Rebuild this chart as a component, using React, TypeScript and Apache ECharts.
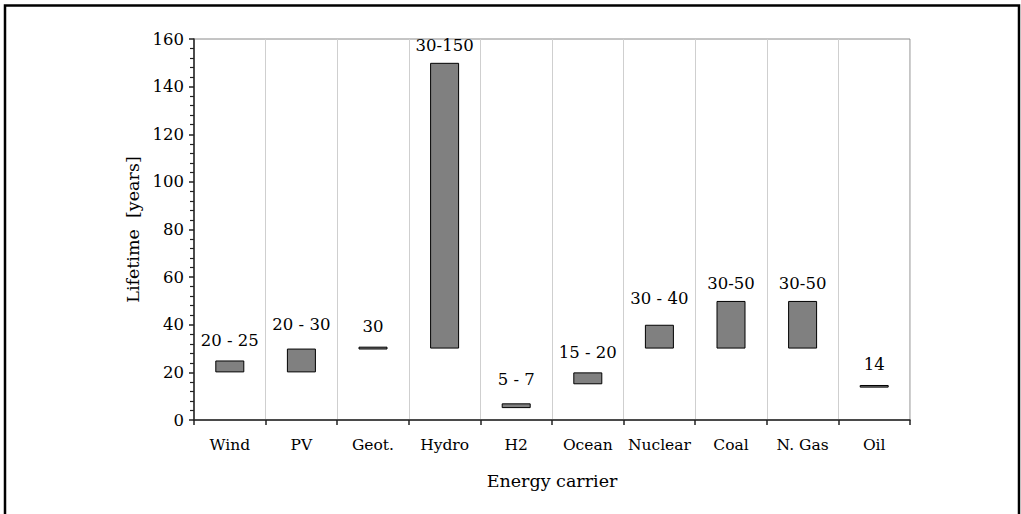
import React, { useEffect, useRef } from "react";
import * as echarts from "echarts";

const categories = ["Wind", "PV", "Geot.", "Hydro", "H2", "Ocean", "Nuclear", "Coal", "N. Gas", "Oil"];
const lowValues = [20, 20, 29.6, 30, 5, 15, 30, 30, 30, 13.6];
const highValues = [25, 30, 30.8, 150, 7, 20, 40, 50, 50, 14.7];
const rangeLabels = ["20 - 25", "20 - 30", "30", "30-150", "5 - 7", "15 - 20", "30 - 40", "30-50", "30-50", "14"];
const labelGaps = [11, 16, 12, 9, 15, 11, 18, 9, 9, 12];
const yTicks = { min: 0, max: 160, interval: 20 };

const FONT = "DejaVu Serif";

export default function App() {
  const ref = useRef<HTMLDivElement>(null);
  useEffect(() => {
    if (!ref.current) return;
    const chart = echarts.init(ref.current, undefined, { renderer: "svg" });
    const rangeData = highValues.map((h, i) => ({
      value: +(h - lowValues[i]).toFixed(3),
      label: { distance: labelGaps[i] },
    }));
    chart.setOption({
      animation: false,
      backgroundColor: "#fff",
      textStyle: { fontFamily: FONT },
      grid: {
        left: 194,
        right: 111,
        top: 39,
        bottom: 94,
        show: true,
        borderColor: "#8a8a8a",
        borderWidth: 1,
        backgroundColor: "transparent",
      },
      graphic: [
        {
          type: "rect",
          shape: { x: 5, y: 5.5, width: 1014, height: 600 },
          style: { fill: "none", stroke: "#000", lineWidth: 2.5 },
          silent: true,
        },
      ],
      xAxis: {
        type: "category",
        data: categories,
        boundaryGap: true,
        name: "Energy carrier",
        nameLocation: "middle",
        nameGap: 52,
        nameTextStyle: { fontFamily: FONT, fontSize: 17.5, color: "#000" },
        axisLine: { lineStyle: { color: "#222", width: 1.5 } },
        axisTick: { show: true, interval: 0, length: 5, lineStyle: { color: "#222", width: 1.5 } },
        axisLabel: { interval: 0, margin: 17, fontFamily: FONT, fontSize: 15.5, color: "#000" },
        splitLine: { show: true, interval: 0, lineStyle: { color: "#cfcfcf", width: 1 } },
      },
      yAxis: {
        type: "value",
        min: yTicks.min,
        max: yTicks.max,
        interval: yTicks.interval,
        name: "Lifetime  [years]",
        nameLocation: "middle",
        nameGap: 52,
        nameTextStyle: { fontFamily: FONT, fontSize: 17.5, color: "#000" },
        axisLine: { show: true, lineStyle: { color: "#222", width: 1.5 } },
        axisTick: { show: true, length: 5, lineStyle: { color: "#222", width: 1.5 } },
        minorTick: { show: true, splitNumber: 5, length: 4, lineStyle: { color: "#222", width: 1.2 } },
        axisLabel: { margin: 10, fontFamily: FONT, fontSize: 16.5, color: "#000" },
        splitLine: { show: false },
      },
      series: [
        {
          type: "bar",
          stack: "range",
          data: lowValues,
          barWidth: 29,
          itemStyle: { color: "transparent" },
          silent: true,
        },
        {
          type: "bar",
          stack: "range",
          data: rangeData,
          barWidth: 29,
          itemStyle: { color: "#808080", borderColor: "#000", borderWidth: 1 },
          label: {
            show: true,
            position: "top",
            formatter: (p: any) => rangeLabels[p.dataIndex],
            fontFamily: FONT,
            fontSize: 16.5,
            color: "#000",
          },
        },
      ],
    });
    return () => chart.dispose();
  }, []);
  return (
    <div
      ref={ref}
      style={{ position: "absolute", left: 0, top: 0, width: 1021, height: 514 }}
    />
  );
}
